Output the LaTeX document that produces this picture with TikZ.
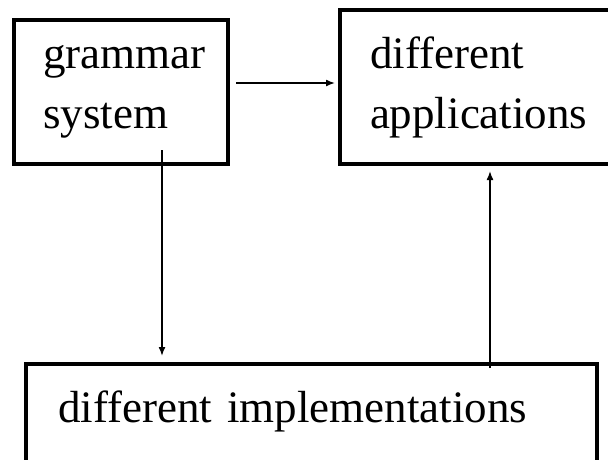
\documentclass[tikz,border=0pt]{standalone}
\usepackage{fontspec}
\setmainfont{Liberation Serif}
\usetikzlibrary{arrows.meta}

\tikzset{
  box/.style={draw, rectangle, line width=3.5pt, outer sep=0pt, align=left,
    font=\fontsize{45}{60}\selectfont},
  flow/.style={line width=1.5pt, -{Latex[length=9pt,width=7pt]}}
}

\begin{document}
\begin{tikzpicture}[x=1pt, y=-1pt]
    \useasboundingbox (0,0) rectangle (608,459);

    % Boxes
    \node[box, text width=156pt, inner xsep=29pt, minimum height=144pt] (grammar) at (121,92) {grammar\\system};
    \node[box, text width=212pt, inner xsep=30pt, minimum height=154pt] (apps) at (476,87) {different\\applications};
    \node[box, text width=507pt, inner xsep=32pt, text depth=25pt, minimum height=110pt] (impl) at (311.5,419) {different implementations};

    % Free ends of the arrows
    \coordinate (h1) at (236,83);
    \coordinate (d1) at (162,150);
    \coordinate (u1) at (490,368);

    % Arrows
    \draw[flow, shorten >=5pt] (h1) -- (h1 -| apps.west);
    \draw[flow, shorten >=8pt] (d1) -- (d1 |- impl.north);
    \draw[flow, shorten >=7pt] (u1) -- (u1 |- apps.south);
  \end{tikzpicture}
\end{document}
